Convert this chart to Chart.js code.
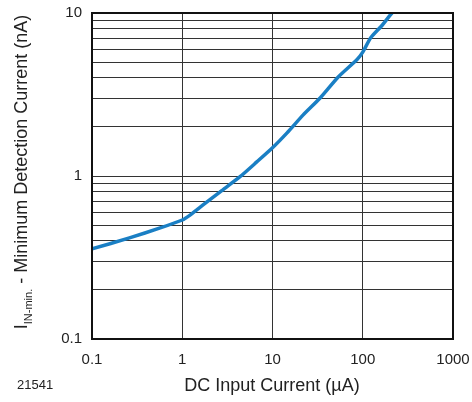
<!DOCTYPE html>
<html>
<head>
<meta charset="utf-8">
<script src="https://cdn.jsdelivr.net/npm/chart.js@4/dist/chart.umd.min.js"></script>
<style>
  html, body { margin: 0; padding: 0; background: #fff; }
  #wrap { width: 472px; height: 402px; }
</style>
</head>
<body>
<div id="wrap"><canvas id="chart" width="472" height="402"></canvas></div>
<script>
// DC input current (uA) vs minimum detection current (nA)
const xValues = [0.1, 0.26, 0.57, 1.0, 1.22, 1.7, 2.63, 4.37, 6.7, 10, 14.5, 21.9, 33.7, 53.5, 87, 100, 122, 165, 213];
const yValues = [0.357, 0.417, 0.48, 0.537, 0.576, 0.664, 0.80, 0.99, 1.22, 1.49, 1.84, 2.37, 3.01, 4.05, 5.2, 5.75, 7.03, 8.44, 10.1];
const xTicks = [0.1, 1, 10, 100, 1000];
const yTicks = [0.1, 0.2, 0.3, 0.4, 0.5, 0.6, 0.7, 0.8, 0.9, 1, 2, 3, 4, 5, 6, 7, 8, 9, 10];
const yLabels = [0.1, 1, 10];

const FONT = "'Liberation Sans', Arial, sans-serif";

const points = xValues.map((x, i) => ({ x: x, y: yValues[i] }));

const extras = {
    id: 'extras',
    afterDraw(chart) {
        const c = chart.ctx;
        const a = chart.chartArea;
        c.save();
        // frame
        c.strokeStyle = '#111';
        c.lineWidth = 2;
        c.strokeRect(a.left, a.top, a.right - a.left, a.bottom - a.top);

        // x title
        c.fillStyle = '#222';
        c.font = '18px ' + FONT;
        c.textAlign = 'center';
        c.textBaseline = 'middle';
        c.fillText('DC Input Current (\u00B5A)', 272, 386);

        // figure number
        c.font = '13px ' + FONT;
        c.textAlign = 'left';
        c.fillText('21541', 17, 385);

        // y title with subscript
        const main1 = 'I';
        const sub = 'IN-min.';
        const main2 = ' - Minimum Detection Current (nA)';
        c.font = '18px ' + FONT;
        const w1 = c.measureText(main1).width;
        const w3 = c.measureText(main2).width;
        c.font = '11px ' + FONT;
        const w2 = c.measureText(sub).width;
        const total = w1 + w2 + w3;
        c.translate(27, 172);
        c.rotate(-Math.PI / 2);
        c.textAlign = 'left';
        c.textBaseline = 'alphabetic';
        let px = -total / 2;
        c.font = '18px ' + FONT;
        c.fillText(main1, px, 0);
        px += w1;
        c.font = '11px ' + FONT;
        c.fillText(sub, px, 5);
        px += w2;
        c.font = '18px ' + FONT;
        c.fillText(main2, px, 0);
        c.restore();
    }
};

const ctx = document.getElementById('chart').getContext('2d');
const chart = new Chart(ctx, {
    type: 'scatter',
    data: {
        datasets: [{
            label: 'Minimum Detection Current',
            data: points,
            showLine: true,
            borderColor: 'rgb(26, 127, 196)',
            borderWidth: 3.5,
            pointRadius: 0,
            tension: 0.2,
            fill: false
        }]
    },
    options: {
        responsive: false,
        animation: false,
        layout: {
            padding: { top: 13, right: 19, left: 0, bottom: 0 }
        },
        plugins: {
            legend: { display: false },
            tooltip: { enabled: false }
        },
        scales: {
            x: {
                type: 'logarithmic',
                min: 0.1,
                max: 1000,
                afterBuildTicks: (s) => { s.ticks = xTicks.map(v => ({ value: v })); },
                afterFit: (s) => {
                    s.height = 402 - 339;
                    s.paddingLeft = 0;
                    s.paddingRight = 0;
                },
                ticks: {
                    color: '#222',
                    font: { family: FONT, size: 15 },
                    padding: 12,
                    maxRotation: 0,
                    callback: (v) => String(v)
                },
                grid: { color: '#333', lineWidth: 1, drawTicks: false },
                border: { color: '#111', width: 2 }
            },
            y: {
                type: 'logarithmic',
                min: 0.1,
                max: 10,
                afterBuildTicks: (s) => { s.ticks = yTicks.map(v => ({ value: v })); },
                afterFit: (s) => {
                    s.width = 92;
                    s.paddingTop = 0;
                    s.paddingBottom = 0;
                },
                ticks: {
                    color: '#222',
                    font: { family: FONT, size: 15 },
                    padding: 10,
                    autoSkip: false,
                    callback: (v) => yLabels.includes(v) ? String(v) : ''
                },
                grid: { color: '#333', lineWidth: 1, drawTicks: false },
                border: { color: '#111', width: 2 }
            }
        }
    },
    plugins: [extras]
});
</script>
</body>
</html>
